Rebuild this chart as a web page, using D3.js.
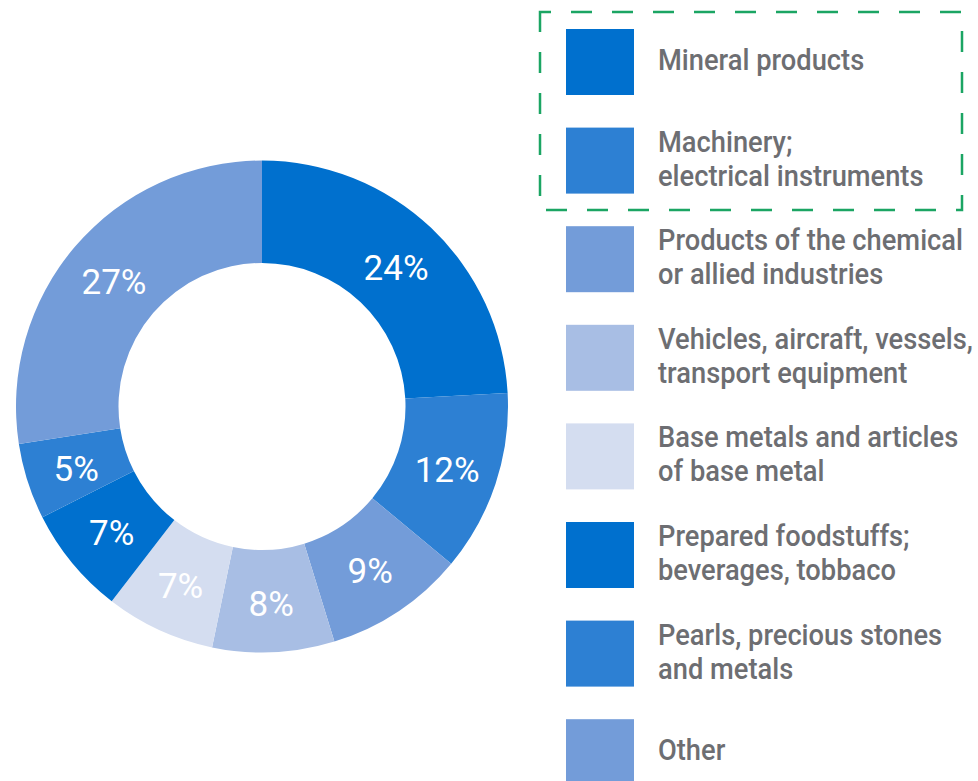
<!DOCTYPE html>
<html>
<head>
<meta charset="utf-8">
<script src="https://cdn.jsdelivr.net/npm/d3@7"></script>
<style>
  body { margin: 0; background: #fff; }
  svg { display: block; font-family: Roboto, "Noto Sans", sans-serif; }
</style>
</head>
<body>
<svg id="chart" width="978" height="781"></svg>
<script>
// slice shares (clockwise from 12 o'clock)
const categories = [
  ["Mineral products"],
  ["Machinery;", "electrical instruments"],
  ["Products of the chemical", "or allied industries"],
  ["Vehicles, aircraft, vessels,", "transport equipment"],
  ["Base metals and articles", "of base metal"],
  ["Prepared foodstuffs;", "beverages, tobbaco"],
  ["Pearls, precious stones", "and metals"],
  ["Other"]
];
const shares = [24.1, 11.9, 9.2, 8.0, 7.2, 7.1, 5.0, 27.4];
const colors = ["#0070ce", "#2d80d3", "#739cd9", "#a8bee4", "#d4ddf0", "#0070ce", "#2d80d3", "#739cd9"];

const svg = d3.select("#chart");

// donut
const cx = 262, cy = 406.5;
const pie = d3.pie().sort(null).value(d => d);
const arc = d3.arc().innerRadius(143.5).outerRadius(246);
const labelArc = d3.arc().innerRadius(195).outerRadius(195);

const g = svg.append("g").attr("transform", `translate(${cx},${cy})`);
const arcs = pie(shares);

g.selectAll("path.slice")
  .data(arcs)
  .join("path")
    .attr("class", "slice")
    .attr("d", arc)
    .attr("fill", (d, i) => colors[i]);

g.selectAll("text.pct")
  .data(arcs)
  .join("text")
    .attr("class", "pct")
    .attr("transform", d => `translate(${labelArc.centroid(d)})`)
    .attr("text-anchor", "middle")
    .attr("dy", "0.42em")
    .attr("fill", "#fff")
    .style("font-size", "35px")
    .text(d => Math.round(d.data) + "%");

// legend
const lg = svg.append("g");

lg.append("rect")
  .attr("x", 540).attr("y", 12)
  .attr("width", 422).attr("height", 198)
  .attr("fill", "none")
  .attr("stroke", "#1ba563")
  .attr("stroke-width", 2.5)
  .attr("stroke-dasharray", "21 20")
  .attr("stroke-dashoffset", 10);

const item = lg.selectAll("g.item")
  .data(categories)
  .join("g")
    .attr("class", "item");

item.append("rect")
  .attr("x", 566)
  .attr("y", (d, i) => 29 + i * 98.6)
  .attr("width", 68)
  .attr("height", 66)
  .attr("fill", (d, i) => colors[i]);

const labels = item.append("text")
  .attr("fill", "#6d6e72")
  .style("font-size", "29.5px")
  .style("font-weight", 500);

labels.selectAll("tspan")
  .data((d, i) => d.map((line, j) => ({ line, j, n: d.length, i })))
  .join("tspan")
    .attr("x", 0)
    .attr("y", d => 29 + d.i * 98.6 + 33 + 8 - (d.n - 1) * 17 + d.j * 34)
    .text(d => d.line);

// the original face is a condensed grotesque: squeeze to match its width
let widest = 0;
labels.selectAll("tspan").each(function () {
  widest = Math.max(widest, this.getComputedTextLength());
});
const squeeze = widest > 0 ? 315 / widest : 1;
labels.attr("transform", `translate(658,0) scale(${squeeze},1)`);
</script>
</body>
</html>
